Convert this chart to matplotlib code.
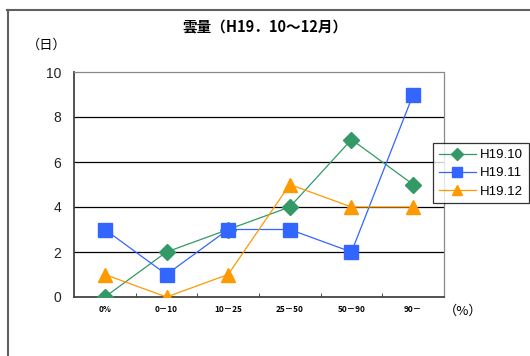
import numpy as np
import matplotlib.pyplot as plt
from matplotlib.lines import Line2D

plt.rcParams['font.family'] = ['Liberation Sans', 'Noto Sans CJK JP', 'DejaVu Sans']

categories = ["0%", "0－10", "10－25", "25－50", "50－90", "90－"]
h19_10 = [0, 2, 3, 4, 7, 5]
h19_11 = [3, 1, 3, 3, 2, 9]
h19_12 = [1, 0, 1, 5, 4, 4]

fig = plt.figure(figsize=(5.3, 3.56), dpi=100)
ax = fig.add_axes([74 / 530, 1 - 297 / 356, 370 / 530, 225 / 356])

xs = np.arange(len(categories))
ax.plot(xs, h19_10, color="#339966", lw=0.9, marker="D", ms=8.5, label="H19.10", zorder=3)
ax.plot(xs, h19_11, color="#3366FF", lw=0.9, marker="s", ms=9.5, label="H19.11", zorder=3)
ax.plot(xs, h19_12, color="#FF9900", lw=0.9, marker="^", ms=10, label="H19.12", zorder=3)

ax.set_xlim(-0.5, 5.5)
ax.set_ylim(0, 10)
ax.set_yticks([0, 2, 4, 6, 8, 10])
ax.tick_params(axis="y", length=0, labelsize=10, pad=9, labelcolor="#222222")
ax.set_xticks(xs)
ax.set_xticklabels(categories, fontsize=6, fontweight="bold",
                   family=['Noto Sans CJK JP', 'DejaVu Sans'])
ax.set_xticks(np.arange(0.5, 5, 1), minor=True)
ax.tick_params(axis="x", which="major", length=0, pad=6)
ax.tick_params(axis="x", which="minor", direction="in", length=3, color="#333333")

for y in [2, 4, 6, 8]:
    ax.axhline(y, color="black", lw=0.9, zorder=1)

for side in ["left", "bottom"]:
    ax.spines[side].set_color("#444444")
    ax.spines[side].set_linewidth(1.3)
for side in ["top", "right"]:
    ax.spines[side].set_color("#888888")
    ax.spines[side].set_linewidth(0.9)
    ax.spines[side].set_linestyle((0, (1.5, 1)))

fig.text(265 / 530, 1 - 28 / 356, "雲量（H19．10～12月）", ha="center", va="center",
         fontsize=10.5, fontweight="bold", family=['Noto Sans CJK JP'])
fig.text(47 / 530, 1 - 45 / 356, "（日）", ha="center", va="center",
         fontsize=9.5, family=['Noto Sans CJK JP'])
fig.text(463 / 530, 1 - 311 / 356, "（%）", ha="center", va="center",
         fontsize=9.5, family=['Noto Sans CJK JP'])

leg = fig.legend(loc="upper left", bbox_to_anchor=(433 / 530, 1 - 143 / 356),
                 fontsize=9.5, frameon=True, fancybox=False, edgecolor="black",
                 handlelength=2.8, handletextpad=0.3, borderpad=0.45, labelspacing=0.45,
                 borderaxespad=0, markerscale=0.7)
leg.get_frame().set_linewidth(0.9)

# outer frame (top and left edges)
fig.add_artist(Line2D([7 / 530, 1], [1 - 9.5 / 356, 1 - 9.5 / 356], color="#606060", lw=1.5))
fig.add_artist(Line2D([7.5 / 530, 7.5 / 530], [0, 1 - 9.5 / 356], color="#606060", lw=1.5))

fig.savefig("out.png", dpi=100)
